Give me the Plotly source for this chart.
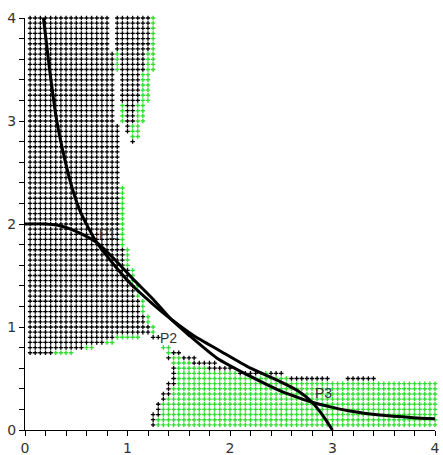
import numpy as np
import plotly.graph_objects as go

# ---- data ----
grid_step = 0.05
grid_n = 80

# spans of the dot grid: (y_from, y_to, x_from, x_to)
black_spans = [
    (3.70, 4.00, 0.05, 0.80), (3.70, 4.00, 0.90, 1.20),
    (3.50, 3.65, 0.05, 0.85), (3.50, 3.65, 0.95, 1.15),
    (3.20, 3.45, 0.05, 0.85), (3.20, 3.45, 0.95, 1.10),
    (3.00, 3.15, 0.05, 0.85), (3.00, 3.15, 1.00, 1.05),
    (2.90, 2.95, 0.05, 0.90), (2.90, 2.95, 1.00, 1.00),
    (2.80, 2.85, 0.05, 0.90), (2.80, 2.80, 1.05, 1.05),
    (1.80, 2.75, 0.05, 0.90), (1.60, 1.75, 0.05, 0.95),
    (1.45, 1.55, 0.05, 1.00), (1.30, 1.40, 0.05, 1.05),
    (1.15, 1.25, 0.05, 1.10), (1.05, 1.10, 0.05, 1.15),
    (0.95, 1.00, 0.05, 1.20), (0.90, 0.90, 0.05, 0.85),
    (0.90, 0.90, 1.25, 1.30), (0.85, 0.85, 0.05, 0.75),
    (0.80, 0.80, 0.05, 0.55), (0.75, 0.75, 0.05, 0.25),
    (0.75, 0.75, 1.45, 1.50), (0.70, 0.70, 1.40, 1.40),
    (0.70, 0.70, 1.55, 1.65), (0.65, 0.65, 1.65, 1.85),
    (0.50, 0.60, 1.45, 1.45), (0.60, 0.60, 1.80, 2.00),
    (0.55, 0.55, 2.10, 2.25), (0.55, 0.55, 2.40, 2.50),
    (0.50, 0.50, 2.60, 2.95), (0.50, 0.50, 3.15, 3.40),
    (0.40, 0.45, 1.40, 1.40), (0.45, 0.45, 1.45, 1.45),
    (0.30, 0.35, 1.35, 1.35), (0.35, 0.35, 1.40, 1.40),
    (0.20, 0.25, 1.30, 1.30), (0.05, 0.15, 1.25, 1.25),
    (0.15, 0.15, 1.30, 1.30),
]
green_spans = [
    (3.70, 4.00, 1.25, 1.25), (3.50, 3.65, 0.90, 0.90),
    (3.50, 3.65, 1.20, 1.25), (3.20, 3.45, 1.15, 1.20),
    (3.00, 3.15, 0.95, 0.95), (3.00, 3.15, 1.10, 1.15),
    (2.85, 2.95, 1.05, 1.10), (1.80, 2.35, 0.95, 0.95),
    (1.60, 1.75, 1.00, 1.00), (1.45, 1.55, 1.05, 1.05),
    (1.30, 1.40, 1.10, 1.10), (1.15, 1.25, 1.15, 1.15),
    (1.05, 1.10, 1.20, 1.20), (0.95, 1.00, 1.25, 1.25),
    (0.90, 0.90, 0.90, 1.10), (0.85, 0.85, 0.80, 0.85),
    (0.80, 0.80, 0.60, 0.65), (0.75, 0.75, 0.30, 0.45),
    (0.80, 0.80, 1.35, 1.40), (0.75, 0.75, 1.40, 1.40),
    (0.70, 0.70, 1.45, 1.50), (0.65, 0.65, 1.45, 1.60),
    (0.60, 0.60, 1.50, 1.75), (0.55, 0.55, 1.50, 2.05),
    (0.55, 0.55, 2.30, 2.35), (0.50, 0.50, 1.50, 2.55),
    (0.45, 0.45, 1.50, 4.00), (0.35, 0.40, 1.45, 4.00),
    (0.30, 0.30, 1.40, 4.00), (0.15, 0.25, 1.35, 4.00),
    (0.05, 0.10, 1.30, 4.00),
]

# curves
c1_x = [0.18, 0.24, 0.31, 0.39, 0.46, 0.54, 0.62, 0.70, 0.88, 1.05, 1.25, 1.42,
        1.64, 1.90, 2.20, 2.49, 2.68, 2.80, 2.90, 2.96, 3.00]
c1_y = [4.00, 3.50, 3.00, 2.62, 2.35, 2.12, 1.96, 1.82, 1.59, 1.40, 1.22, 1.08,
        0.92, 0.77, 0.60, 0.47, 0.37, 0.27, 0.15, 0.06, 0.00]
c2_x = [0.00, 0.20, 0.35, 0.54, 0.70, 0.88, 1.05, 1.25, 1.42, 1.60, 1.87, 2.20,
        2.49, 2.68, 2.80, 3.00, 3.14, 3.46, 3.79, 4.00]
c2_y = [2.00, 2.00, 1.98, 1.91, 1.82, 1.65, 1.47, 1.27, 1.08, 0.92, 0.70, 0.52,
        0.38, 0.31, 0.27, 0.22, 0.19, 0.145, 0.12, 0.11]

label_text = ["P1", "P2", "P3"]
label_x = [0.80, 1.40, 2.91]
label_y = [1.90, 0.89, 0.36]

tick_vals = [0, 1, 2, 3, 4]
tick_text = ["0", "1", "2", "3", "4"]


def spans_to_points(spans):
    g = np.round(np.arange(1, grid_n + 1) * grid_step, 2)
    xs, ys = [], []
    for y0, y1, x0, x1 in spans:
        for yv in g[(g >= y0 - 1e-6) & (g <= y1 + 1e-6)]:
            for xv in g[(g >= x0 - 1e-6) & (g <= x1 + 1e-6)]:
                xs.append(xv)
                ys.append(yv)
    return xs, ys


bx, by = spans_to_points(black_spans)
gx, gy = spans_to_points(green_spans)

fig = go.Figure()
fig.add_trace(go.Scatter(x=bx, y=by, mode="markers", cliponaxis=False,
                         marker=dict(symbol="cross-thin", size=3.2, color="black",
                                     line=dict(width=1.3, color="black"))))
fig.add_trace(go.Scatter(x=gx, y=gy, mode="markers", cliponaxis=False,
                         marker=dict(symbol="cross-thin", size=3.2, color="#33dd33",
                                     line=dict(width=1.4, color="#33dd33"))))
fig.add_trace(go.Scatter(x=c1_x, y=c1_y, mode="lines", cliponaxis=False,
                         line=dict(color="black", width=3, shape="spline", smoothing=0.6)))
fig.add_trace(go.Scatter(x=c2_x, y=c2_y, mode="lines", cliponaxis=False,
                         line=dict(color="black", width=3, shape="spline", smoothing=0.6)))

for t, x, y in zip(label_text, label_x, label_y):
    fig.add_annotation(x=x, y=y, text=t, showarrow=False,
                       font=dict(family="Liberation Sans, Arial, sans-serif", size=14, color="#333"))

axis_common = dict(
    range=[0, 4], showgrid=False, zeroline=False, showline=True, linecolor="black",
    linewidth=1, ticks="outside", ticklen=5, tickcolor="black",
    tickvals=tick_vals, ticktext=tick_text, automargin=False,
    tickfont=dict(family="DejaVu Sans, sans-serif", size=14, color="#333"),
    minor=dict(dtick=0.2, ticks="outside", ticklen=5, tickcolor="black", showgrid=False),
)

fig.update_layout(
    width=443, height=455,
    margin=dict(l=25, r=8, t=18, b=25),
    plot_bgcolor="white", paper_bgcolor="white",
    showlegend=False,
    xaxis=dict(**axis_common, ticklabelstandoff=0),
    yaxis=dict(**axis_common, ticklabelstandoff=0),
)

fig.write_html("out.html", config={"displayModeBar": False},
               post_script="document.body.style.margin='0';document.body.style.overflow='hidden';")
